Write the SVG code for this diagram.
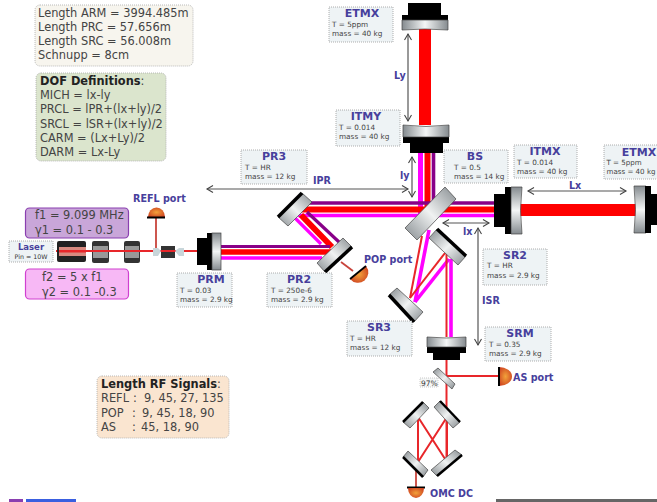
<svg xmlns="http://www.w3.org/2000/svg" width="657" height="502" viewBox="0 0 657 502">
<style>
text{font-family:"DejaVu Sans",sans-serif;fill:#333}
.info{font-size:11.4px;fill:#444}
.b{font-weight:bold;fill:#222}
.lab{fill:#eef3f5;stroke:#999;stroke-width:.8;stroke-dasharray:1 1}
.tt{font-size:11px;font-weight:bold;fill:#47409c;text-anchor:middle}
.sm{font-size:7.3px;fill:#444}
.port{font-size:9.6px;font-weight:bold;fill:#47409c}
.blk{fill:#000}
.gs{fill:url(#gs);stroke:#444;stroke-width:.7}
.gb{fill:url(#gb);stroke:#444;stroke-width:.7}
.gv{fill:url(#gv);stroke:#444;stroke-width:.7}
.gh{fill:url(#gh);stroke:#444;stroke-width:.7}
.arr{fill:none;stroke:#555;stroke-width:1.2;marker-start:url(#ah);marker-end:url(#ah)}
.r{fill:none;stroke:#f00}
.m{fill:none;stroke:#f0f}
.p{fill:none;stroke:#808}
.thin{fill:none;stroke:#e8262a;stroke-width:2}
.dim{fill:none;stroke:#c8443c;stroke-width:1.800}
.det{fill:url(#d)}
.edge{stroke:#000;fill:none}
</style>
<defs>
<linearGradient id="gs" x1="0" y1="1" x2="1" y2="0"><stop offset="0" stop-color="#858b8f"/><stop offset=".5" stop-color="#f0f2f2"/><stop offset="1" stop-color="#858b8f"/></linearGradient>
<linearGradient id="gb" x1="0" y1="0" x2="1" y2="1"><stop offset="0" stop-color="#858b8f"/><stop offset=".5" stop-color="#f0f2f2"/><stop offset="1" stop-color="#858b8f"/></linearGradient>
<linearGradient id="gv" x1="0" y1="0" x2="0" y2="1"><stop offset="0" stop-color="#858b8f"/><stop offset=".5" stop-color="#f4f6f6"/><stop offset="1" stop-color="#858b8f"/></linearGradient>
<linearGradient id="gh" x1="0" y1="0" x2="1" y2="0"><stop offset="0" stop-color="#858b8f"/><stop offset=".5" stop-color="#f4f6f6"/><stop offset="1" stop-color="#858b8f"/></linearGradient>
<radialGradient id="d" cx=".5" cy=".5" r=".7"><stop offset="0" stop-color="#f2a23a"/><stop offset="1" stop-color="#c8321c"/></radialGradient>
<marker id="ah" markerWidth="9" markerHeight="9" refX="7" refY="4" orient="auto-start-reverse" markerUnits="userSpaceOnUse"><path d="M1 .5L7 4L1 7.5" fill="none" stroke="#444" stroke-width="1.1"/></marker>
</defs>
<rect width="657" height="502" fill="#fff"/>

<g id="connectors">
<path class="r" stroke-width="12" d="M425 28V125"/>
<path class="r" stroke-width="12" d="M520 210H636"/>
<path class="p" stroke-width="3.600" d="M433.500 153V203"/>
<path class="r" stroke-width="6" d="M427.500 153V210"/>
<path class="m" stroke-width="5" d="M420.500 153V215"/>
<path class="p" stroke-width="3.600" d="M306 203H495"/>
<path class="r" stroke-width="6" d="M300 209.500H495"/>
<path class="m" stroke-width="3.600" d="M298 215.500H495"/>
<path class="p" stroke-width="3.200" d="M307 212L339 242"/>
<path class="r" stroke-width="6" d="M301 215L332 247"/>
<path class="m" stroke-width="3.200" d="M295 218L321 244"/>
<path class="p" stroke-width="3" d="M220 246.500H330"/>
<path class="r" stroke-width="5.500" d="M220 252H333"/>
<path class="m" stroke-width="3.400" d="M220 258H322"/>
<path class="thin" d="M56 251H198"/>
<path class="dim" d="M156 218V250"/>
<path class="dim" d="M341 262L353 271"/>
<path class="thin" d="M422 236L410 298"/>
<path class="m" stroke-width="3.600" d="M429 230L415 302"/>
<path class="m" stroke-width="3.600" d="M415 302L449 259"/>
<path class="thin" d="M410 298L445 253"/>
<path class="thin" d="M446.500 253V337"/>
<path class="m" stroke-width="3.600" d="M451 259V337"/>
<path class="thin" d="M446.500 360V458"/>
<path class="thin" d="M447 376H498"/>
<path class="thin" d="M418 417V462M447 417V462M418 417L447 462M447 417L418 462"/>
<path class="dim" d="M416 470V487"/>
<path class="arr" d="M408 34V121"/>
<path class="arr" d="M412 157V197"/>
<path class="arr" d="M207 189H408"/>
<path class="arr" d="M528 191H626"/>
<path class="arr" d="M443 223H489"/>
<path class="arr" d="M478 228V345"/>
</g>

<g id="info-lengths">
<rect x="35" y="5" width="158" height="61" rx="5" fill="#f7f5ee" stroke="#aaa" stroke-width=".8" stroke-dasharray="1 1"/>
<text class="info" x="38" y="17">Length ARM = 3994.485m</text>
<text class="info" x="38" y="31">Length PRC = 57.656m</text>
<text class="info" x="38" y="45">Length SRC = 56.008m</text>
<text class="info" x="38" y="59">Schnupp = 8cm</text>
</g>
<g id="info-dof">
<rect x="36" y="73" width="130" height="88" rx="5" fill="#dbe5cd" stroke="#aaa" stroke-width=".8" stroke-dasharray="1 1"/>
<text class="info" x="40" y="85"><tspan class="b">DOF Definitions</tspan>:</text>
<text class="info" x="40" y="99">MICH = lx-ly</text>
<text class="info" x="40" y="113">PRCL = lPR+(lx+ly)/2</text>
<text class="info" x="40" y="128">SRCL = lSR+(lx+ly)/2</text>
<text class="info" x="40" y="142">CARM = (Lx+Ly)/2</text>
<text class="info" x="40" y="156">DARM = Lx-Ly</text>
</g>
<g id="info-rf">
<rect x="97" y="376" width="132" height="62" rx="5" fill="#fae5d0" stroke="#aaa" stroke-width=".8" stroke-dasharray="1 1"/>
<text class="info" x="101" y="388"><tspan class="b">Length RF Signals</tspan>:</text>
<text class="info" x="101" y="402">REFL<tspan x="133">:</tspan><tspan x="144">9, 45, 27, 135</tspan></text>
<text class="info" x="101" y="417">POP<tspan x="132">:</tspan><tspan x="142">9, 45, 18, 90</tspan></text>
<text class="info" x="101" y="431">AS<tspan x="132">:</tspan><tspan x="141">45, 18, 90</tspan></text>
</g>
<g id="f1">
<rect x="25.500" y="208" width="103" height="30" rx="4" fill="#c9a6d9" stroke="#8a3fb0" stroke-width="1.200"/>
<text class="info" x="35" y="219">f1 = 9.099 MHz</text>
<text class="info" x="35" y="234">γ1 = 0.1 - 0.3</text>
</g>
<g id="f2">
<rect x="25.500" y="269" width="103" height="30" rx="4" fill="#f7b8f5" stroke="#d040d0" stroke-width="1.200"/>
<text class="info" x="42" y="281">f2 = 5 x f1</text>
<text class="info" x="42" y="296">γ2 = 0.1 -0.3</text>
</g>
<g id="laser">
<rect x="9" y="241" width="44" height="21" fill="#eef3f5" stroke="#999" stroke-width=".8" stroke-dasharray="1 1"/>
<text x="31" y="250" font-size="8.500" font-weight="bold" text-anchor="middle" style="fill:#47409c">Laser</text>
<text x="31" y="259" font-size="6.300" text-anchor="middle">Pin = 10W</text>
<rect x="57" y="241" width="29" height="21" rx="2" fill="#222"/>
<rect x="59" y="247" width="27" height="9" fill="#d98a80"/>
<rect x="59" y="250" width="27" height="2.500" fill="#e8262a"/>
</g>
<g id="modulators">
<rect x="92" y="241" width="17" height="22" rx="2" fill="#333"/><rect x="93" y="246" width="15" height="12" fill="#999"/><rect x="92" y="250" width="17" height="2" fill="#e8262a"/>
<rect x="124" y="241" width="16" height="22" rx="2" fill="#333"/><rect x="125" y="246" width="14" height="12" fill="#999"/><rect x="124" y="250" width="16" height="2" fill="#e8262a"/>
</g>
<g id="faraday">
<path d="M153 248L158 248L161 251L158 256H153z" fill="#c8d6da"/><path d="M184 248H179L175 251L179 256H184z" fill="#c8d6da"/><rect x="161" y="246" width="14" height="12" fill="#333"/><rect x="161" y="250" width="14" height="2" fill="#e8262a"/>
</g>
<g id="refl-port">
<path class="det" d="M148 217a8.500 9.500 0 0 1 17 0z"/><rect x="147" y="216.500" width="18" height="2" class="blk"/>
<text class="port" x="133" y="202">REFL port</text>
</g>
<g id="PRM">
<rect x="197" y="238" width="12" height="27" class="blk"/><rect x="207" y="233" width="7" height="37" class="blk"/>
<rect x="212" y="233" width="9" height="37" class="gv"/>
<rect class="lab" x="177" y="273" width="55" height="34"/>
<text class="tt" x="211" y="283">PRM</text><text class="sm" x="180" y="293">T = 0.03</text><text class="sm" x="180" y="302">mass = 2.9 kg</text>
</g>
<g id="PR3">
<path class="gs" d="M278 217L302 193L312 202L288 226z"/><path class="edge" stroke-width="3.500" d="M278 217L302 193"/>
<rect class="lab" x="241" y="150" width="66" height="34"/>
<text class="tt" x="274" y="160">PR3</text><text class="sm" x="245" y="170">T = HR</text><text class="sm" x="245" y="179">mass = 12 kg</text>
<text class="port" x="313" y="184">IPR</text>
</g>
<g id="PR2">
<path class="gs" d="M317 263L343 238L352 247L325 272z"/><path class="edge" stroke-width="3.500" d="M325 272L352 247"/>
<rect class="lab" x="267" y="273" width="65" height="34"/>
<text class="tt" x="299" y="283">PR2</text><text class="sm" x="271" y="293">T = 250e-6</text><text class="sm" x="271" y="302">mass = 2.9 kg</text>
</g>
<g id="pop-port">
<path class="det" d="M350 279L366 266a10 10 0 0 1-16 13z"/><path class="edge" stroke-width="1.800" d="M350 279L366 266"/>
<text class="port" x="364" y="263">POP port</text>
</g>
<g id="BS">
<path class="gs" d="M445 187L456 199L417 240L405 228z"/>
<rect class="lab" x="444" y="150" width="64" height="33"/>
<text class="tt" x="475" y="160">BS</text><text class="sm" x="454" y="170">T = 0.5</text><text class="sm" x="454" y="179">mass = 14 kg</text>
</g>
<g id="ITMY">
<path class="blk" d="M410 142H443V153H410z"/><rect x="403" y="136" width="46" height="7" class="blk"/>
<path class="gh" d="M403 125Q426 128 449 125V137H403z"/>
<rect class="lab" x="336" y="110" width="64" height="36"/>
<text class="tt" x="366" y="120">ITMY</text><text class="sm" x="339" y="130">T = 0.014</text><text class="sm" x="339" y="139">mass = 40 kg</text>
</g>
<g id="ETMX-top">
<path class="blk" d="M408 3H441V15H448V21H402V15H408z"/>
<path class="gh" d="M402 20H448V30Q425 28 402 30z"/>
<rect class="lab" x="329" y="7" width="64" height="35"/>
<text class="tt" x="362" y="17">ETMX</text><text class="sm" x="332" y="27">T = 5ppm</text><text class="sm" x="332" y="36">mass = 40 kg</text>
<text class="port" x="394" y="79">Ly</text><text class="port" x="400" y="179">ly</text>
</g>
<g id="ITMX">
<path class="blk" d="M494 194H505V187H515V234H505V227H494z"/>
<path class="gv" d="M511 187H522Q519 210 522 234H511z"/>
<rect class="lab" x="514" y="145" width="63" height="33"/>
<text class="tt" x="545" y="155">ITMX</text><text class="sm" x="517" y="165">T = 0.014</text><text class="sm" x="517" y="174">mass = 40 kg</text>
<text class="port" x="569" y="189">Lx</text><text class="port" x="463" y="235">lx</text>
</g>
<g id="ETMX">
<path class="gv" d="M634 186H646V233H634Q637 210 634 186z"/>
<path class="blk" d="M645 186H651V194H657V225H651V233H645z"/>
<rect class="lab" x="604" y="145" width="54" height="34"/>
<text class="tt" x="639" y="156">ETMX</text><text class="sm" x="606.500" y="165" style="font-size:7.100px">T = 5ppm</text><text class="sm" x="606.500" y="174" style="font-size:7.100px">mass = 40 kg</text>
</g>
<g id="SR2">
<path class="gb" d="M437 229L466 256L458 265L429 238z"/><path class="edge" stroke-width="3.500" d="M437 229L466 256"/>
<rect class="lab" x="483" y="249" width="64" height="36"/>
<text class="tt" x="515" y="259">SR2</text><text class="sm" x="487" y="268">T = HR</text><text class="sm" x="487" y="278">mass = 2.9 kg</text>
<text class="port" x="482" y="304">ISR</text>
</g>
<g id="SR3">
<path class="gb" d="M389 295L397 288L423 312L414 322z"/><path class="edge" stroke-width="3.500" d="M389 295L414 322"/>
<rect class="lab" x="347" y="321" width="65" height="35"/>
<text class="tt" x="379" y="331">SR3</text><text class="sm" x="350" y="341">T = HR</text><text class="sm" x="350" y="350">mass = 12 kg</text>
</g>
<g id="SRM">
<rect x="433" y="352" width="27" height="8" class="blk"/><rect x="427" y="346" width="39" height="7" class="blk"/>
<path class="gh" d="M427 337Q446 339 466 337V347H427z"/>
<rect class="lab" x="485" y="327" width="66" height="34"/>
<text class="tt" x="520" y="337">SRM</text><text class="sm" x="489" y="347">T = 0.35</text><text class="sm" x="489" y="356">mass = 2.9 kg</text>
</g>
<g id="splitter">
<path class="gb" d="M433 372L438 368L455 384L452 389z"/>
<rect x="420" y="378" width="18" height="9" fill="#f4f6f6" stroke="#aaa" stroke-width=".6" stroke-dasharray="1 1"/>
<text x="421" y="386" font-size="7.500">97%</text>
</g>
<g id="as-port">
<path class="det" d="M499 367a13 9.500 0 0 1 0 19z"/><rect x="498" y="367" width="2" height="19" class="blk"/>
<text class="port" x="513" y="381">AS port</text>
</g>
<g id="OMC">
<path class="gs" d="M403 422L423 402L429 408L410 428z"/><path class="edge" stroke-width="2.500" d="M403 422L423 402"/>
<path class="gb" d="M440 401L460 422L453 428L434 407z"/><path class="edge" stroke-width="2.500" d="M440 401L460 422"/>
<path class="gb" d="M403 457L423 477L428 470L408 451z"/><path class="edge" stroke-width="2.500" d="M403 457L423 477"/>
<path class="gs" d="M437 476L462 455L455 450L431 470z"/><path class="edge" stroke-width="2.500" d="M437 476L462 455"/>
</g>
<g id="omc-dc">
<rect x="407" y="486.500" width="18" height="2" class="blk"/>
<path class="det" d="M408 488H424a8 10 0 0 1-16 0z"/>
<text class="port" x="430" y="497">OMC DC</text>
</g>
<g id="edge">
<rect x="9" y="499" width="14" height="3" fill="#8a3fb0"/>
<rect x="26" y="499" width="50" height="3" fill="#3a5fe0"/>
<rect x="496" y="499" width="161" height="3" fill="#666"/>
</g>
</svg>
